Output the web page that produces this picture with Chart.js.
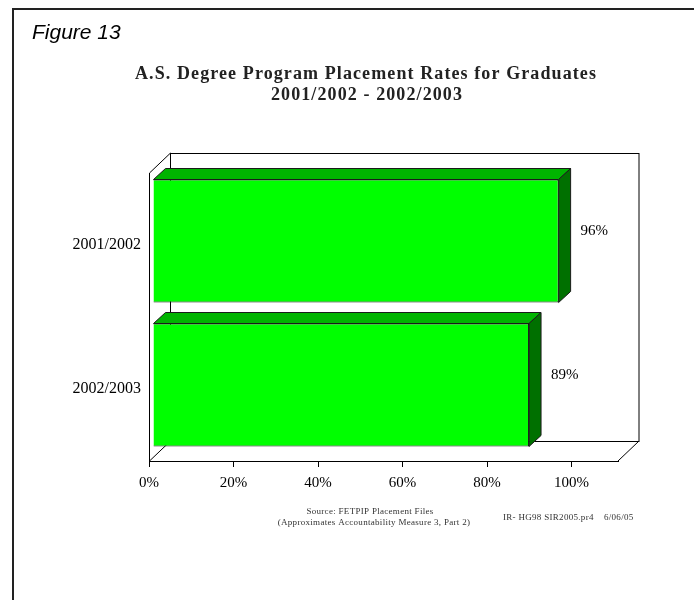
<!DOCTYPE html>
<html>
<head>
<meta charset="utf-8">
<script src="https://cdn.jsdelivr.net/npm/chart.js@4"></script>
<style>
  html, body { margin: 0; padding: 0; background: #fff; }
  #wrap { width: 694px; height: 600px; position: relative; }
</style>
</head>
<body>
<div id="wrap"><canvas id="placementChart" width="694" height="600"></canvas></div>
<script>
const categories = ["2001/2002", "2002/2003"];
const placementRates = [96, 89];
const xTickValues = [0, 20, 40, 60, 80, 100];

const titleLines = ["A.S. Degree Program Placement Rates for Graduates", "2001/2002 - 2002/2003"];
const sourceLines = ["Source: FETPIP Placement Files", "(Approximates Accountability Measure 3, Part 2)"];
const fileNote = "IR- HG98 SIR2005.pr4    6/06/05";

// 3d look: wall depth and bar depth
const wallDX = 21, wallDY = 20;
const barShiftX = 4, barShiftY = -4;
const barDX = 12, barDY = 11;

const serif = "'Liberation Serif', 'Times New Roman', serif";

const walls3d = {
  id: "walls3d",
  beforeDatasetsDraw(chart) {
    const { ctx, chartArea: a } = chart;
    const L = Math.round(a.left) + 0.5, R = a.right, T = a.top, B = a.bottom;
    ctx.save();
    ctx.strokeStyle = "#000";
    ctx.lineWidth = 1;
    ctx.strokeRect(L + wallDX, Math.round(T - wallDY) + 0.5, R - L, B - T);
    ctx.beginPath();
    ctx.moveTo(L, B);
    ctx.lineTo(L, T);
    ctx.lineTo(L + wallDX, T - wallDY);
    ctx.moveTo(L, B);
    ctx.lineTo(L + wallDX, B - wallDY);
    ctx.moveTo(R, B);
    ctx.lineTo(R + wallDX, B - wallDY);
    ctx.stroke();
    ctx.restore();
    // bars sit a little behind the front plane
    ctx.save();
    ctx.translate(barShiftX, barShiftY);
  },
  afterDatasetsDraw(chart) {
    const { ctx } = chart;
    ctx.restore();
    const meta = chart.getDatasetMeta(0);
    ctx.save();
    ctx.translate(barShiftX, barShiftY);
    ctx.strokeStyle = "#1a1a1a";
    ctx.lineWidth = 1;
    meta.data.forEach((bar, i) => {
      const top = bar.y - bar.height / 2, bot = bar.y + bar.height / 2;
      // top face
      ctx.beginPath();
      ctx.moveTo(bar.base, top);
      ctx.lineTo(bar.base + barDX, top - barDY);
      ctx.lineTo(bar.x + barDX, top - barDY);
      ctx.lineTo(bar.x, top);
      ctx.closePath();
      ctx.fillStyle = "#00b400";
      ctx.fill();
      ctx.stroke();
      // side face
      ctx.beginPath();
      ctx.moveTo(bar.x, top);
      ctx.lineTo(bar.x + barDX, top - barDY);
      ctx.lineTo(bar.x + barDX, bot - barDY);
      ctx.lineTo(bar.x, bot);
      ctx.closePath();
      ctx.fillStyle = "#007000";
      ctx.fill();
      ctx.stroke();
      // value label
      ctx.fillStyle = "#000";
      ctx.font = "15px " + serif;
      ctx.textAlign = "left";
      ctx.textBaseline = "middle";
      ctx.fillText(placementRates[i] + "%", bar.x + 22, bar.y - 10);
    });
    ctx.restore();
  },
  afterDraw(chart) {
    const { ctx } = chart;
    ctx.save();
    // page frame
    ctx.strokeStyle = "#222";
    ctx.lineWidth = 2;
    ctx.beginPath();
    ctx.moveTo(13, 600);
    ctx.lineTo(13, 9);
    ctx.lineTo(694, 9);
    ctx.stroke();

    ctx.fillStyle = "#000";
    ctx.textBaseline = "middle";
    ctx.textAlign = "left";
    ctx.font = "italic 21px 'Liberation Sans', Arial, sans-serif";
    ctx.fillText("Figure 13", 32, 33);

    ctx.textAlign = "center";
    ctx.font = "bold 18px " + serif;
    ctx.letterSpacing = "1.1px";
    ctx.fillStyle = "#222";
    ctx.fillText(titleLines[0], 366, 74);
    ctx.fillText(titleLines[1], 367, 95);

    ctx.letterSpacing = "0.3px";
    ctx.font = "9px " + serif;
    ctx.fillStyle = "#333";
    ctx.fillText(sourceLines[0], 370, 512);
    ctx.fillText(sourceLines[1], 374, 523);
    ctx.textAlign = "left";
    ctx.fillText(fileNote, 503, 518);
    ctx.restore();
  }
};

new Chart(document.getElementById("placementChart"), {
  type: "bar",
  data: {
    labels: categories,
    datasets: [{
      data: placementRates,
      backgroundColor: "#00ff00",
      borderColor: "#1a1a1a",
      borderWidth: 1,
      categoryPercentage: 1,
      barPercentage: 0.854
    }]
  },
  options: {
    indexAxis: "y",
    responsive: false,
    animation: false,
    layout: { padding: { top: 173, right: 76, left: 0, bottom: 0 } },
    plugins: {
      legend: { display: false },
      title: { display: false },
      tooltip: { enabled: false }
    },
    scales: {
      x: {
        min: 0,
        max: 111,
        afterBuildTicks: s => { s.ticks = xTickValues.map(v => ({ value: v })); },
        afterFit: s => { s.height = 600 - 461; },
        grid: { drawOnChartArea: false, drawTicks: true, tickLength: 6, color: "#000" },
        border: { display: true, color: "#000", width: 1 },
        ticks: {
          padding: 7,
          color: "#000",
          font: { family: serif, size: 15 },
          callback: v => v + "%"
        }
      },
      y: {
        afterFit: s => { s.width = 149; },
        grid: { display: false },
        border: { display: false },
        ticks: { padding: 0, color: "#000", font: { family: serif, size: 16 } }
      }
    }
  },
  plugins: [walls3d]
});
</script>
</body>
</html>
